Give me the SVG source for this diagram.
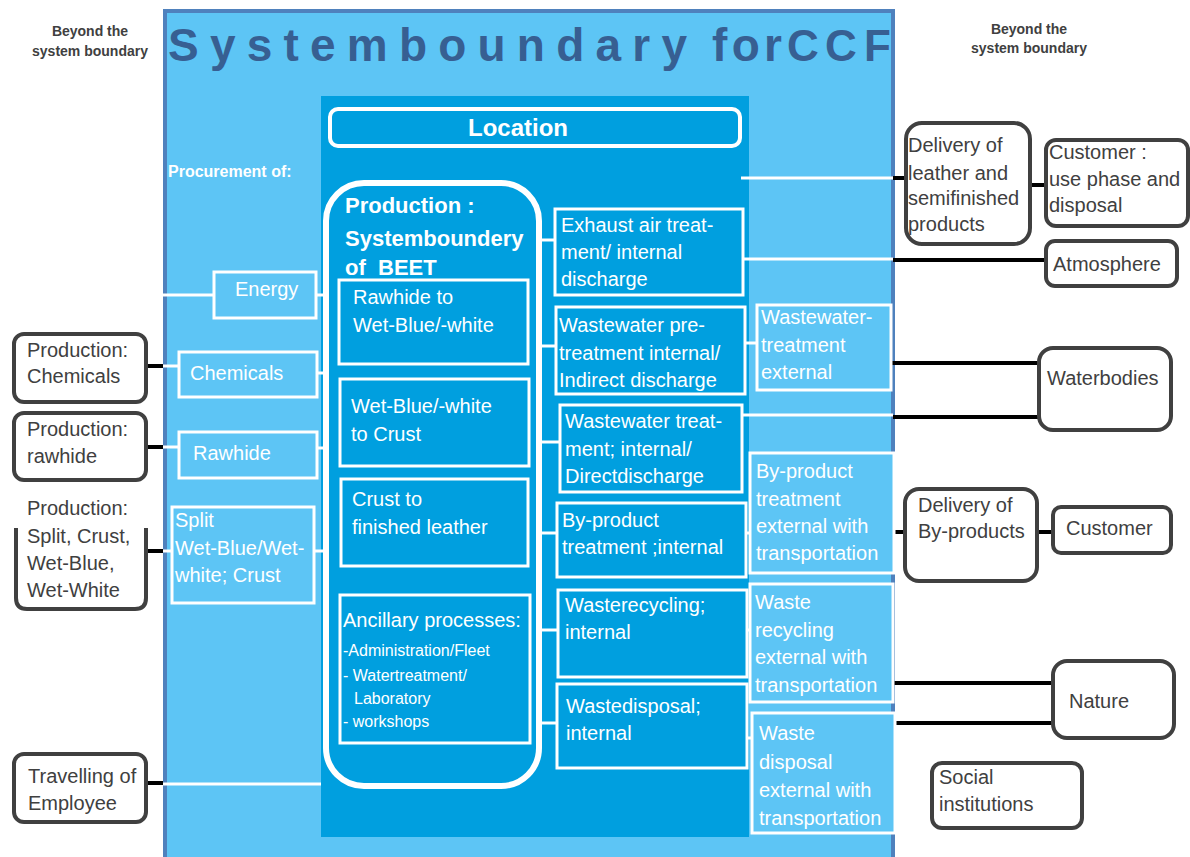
<svg xmlns="http://www.w3.org/2000/svg" width="1190" height="857" viewBox="0 0 1190 857">
<style>
.t{font-family:"Liberation Sans",Arial,sans-serif;font-size:20px;fill:#fff}
.g{fill:#404040}
.b{font-weight:bold}
.ext{fill:#fff;stroke:#404040;stroke-width:4}
.ib{fill:#009FDF;stroke:#fff;stroke-width:3}
.ob{fill:#5DC5F5;stroke:#fff;stroke-width:3}
.wl{stroke:#fff;stroke-width:3;fill:none}
.bl{stroke:#000;stroke-width:4;fill:none}
.title{font-family:"Liberation Sans",Arial,sans-serif;font-weight:bold;font-size:46px;fill:#375F92}
</style>
<rect width="1190" height="857" fill="#fff"/>
<g id="boundary">
<rect x="165" y="11" width="728" height="860" fill="#5DC5F5" stroke="#4F81BD" stroke-width="4"/>
<text class="title" x="168" y="61" textLength="519" lengthAdjust="spacing">Systemboundary</text>
<text class="title" x="712" y="61" textLength="70" lengthAdjust="spacing">for</text>
<text class="title" style="font-size:44px" x="787 825 864" y="61">CCF</text>
<text class="t b" x="168" y="177" style="font-size:16px">Procurement of:</text>
</g>
<g id="beyond-left"><text class="t g b" style="font-size:14px" text-anchor="middle" x="90" y="36">Beyond the</text><text class="t g b" style="font-size:14px" text-anchor="middle" x="90" y="56">system boundary</text></g>
<g id="beyond-right"><text class="t g b" style="font-size:14px" text-anchor="middle" x="1029" y="34">Beyond the</text><text class="t g b" style="font-size:14px" text-anchor="middle" x="1029" y="53">system boundary</text></g>
<g id="location">
<rect x="321" y="96" width="428" height="741" fill="#009FDF"/>
<rect x="330" y="109" width="410" height="37" rx="8" fill="none" stroke="#fff" stroke-width="4"/>
<text class="t b" style="font-size:24px" x="518" y="136" text-anchor="middle">Location</text>
</g>
<g id="connectors">
<line class="wl" x1="163" y1="295" x2="214" y2="295"/>
<line class="wl" x1="316" y1="295" x2="326" y2="295"/>
<line class="wl" x1="163" y1="366" x2="179" y2="366"/>
<line class="wl" x1="317" y1="373" x2="326" y2="373"/>
<line class="wl" x1="163" y1="447" x2="179" y2="447"/>
<line class="wl" x1="317" y1="448" x2="326" y2="448"/>
<line class="wl" x1="163" y1="551" x2="172" y2="551"/>
<line class="wl" x1="314" y1="551" x2="326" y2="551"/>
<line class="wl" x1="163" y1="784" x2="321" y2="784"/>
<line class="wl" x1="539" y1="240" x2="555" y2="240"/>
<line class="wl" x1="539" y1="346" x2="556" y2="346"/>
<line class="wl" x1="539" y1="442" x2="560" y2="442"/>
<line class="wl" x1="539" y1="533" x2="557" y2="533"/>
<line class="wl" x1="539" y1="630" x2="558" y2="630"/>
<line class="wl" x1="539" y1="723" x2="557" y2="723"/>
<line class="wl" x1="741" y1="178" x2="893" y2="178"/>
<line class="wl" x1="743" y1="259" x2="893" y2="259"/>
<line class="wl" x1="745" y1="343" x2="757" y2="343"/>
<line class="wl" x1="742" y1="415" x2="893" y2="415"/>
<line class="wl" x1="746" y1="533" x2="750" y2="533"/>
<line class="wl" x1="747" y1="630" x2="751" y2="630"/>
<line class="wl" x1="741" y1="738" x2="752" y2="738"/>
<line class="bl" x1="145" y1="366" x2="163" y2="366"/>
<line class="bl" x1="144" y1="447" x2="163" y2="447"/>
<line class="bl" x1="145" y1="551" x2="163" y2="551"/>
<line class="bl" x1="143" y1="783" x2="163" y2="783"/>
<line class="bl" x1="893" y1="178" x2="907" y2="178"/>
<line class="bl" x1="1025" y1="185" x2="1045" y2="185"/>
<line class="bl" x1="893" y1="260" x2="1045" y2="260"/>
<line class="bl" x1="891" y1="363" x2="1040" y2="363"/>
<line class="bl" x1="893" y1="417" x2="1040" y2="417"/>
<line class="bl" x1="894" y1="532" x2="906" y2="532"/>
<line class="bl" x1="1036" y1="532" x2="1052" y2="532"/>
<line class="bl" x1="887" y1="683" x2="1052" y2="683"/>
<line class="bl" x1="886" y1="723" x2="1053" y2="723"/>
</g>
<g id="production">
<rect x="326" y="183" width="213" height="603" rx="38" fill="none" stroke="#fff" stroke-width="6"/>
<text class="t b" style="font-size:22px" x="345" y="213">Production :</text>
<text class="t b" style="font-size:22px" x="345" y="246">Systemboundery</text>
<text class="t b" style="font-size:22px" x="345" y="275" xml:space="preserve">of  BEET</text>
</g>
<g id="rawhide-wetblue"><rect class="ib" x="339" y="280" width="189" height="84"/><text class="t" x="353" y="304">Rawhide to</text><text class="t" x="353" y="332">Wet-Blue/-white</text></g>
<g id="wetblue-crust"><rect class="ib" x="340" y="379" width="189" height="87"/><text class="t" x="351" y="413">Wet-Blue/-white</text><text class="t" x="351" y="441">to Crust</text></g>
<g id="crust-finished"><rect class="ib" x="341" y="479" width="187" height="87"/><text class="t" x="352" y="506">Crust to</text><text class="t" x="352" y="534">finished leather</text></g>
<g id="ancillary"><rect class="ib" x="340" y="595" width="190" height="148"/><text class="t" x="343" y="627">Ancillary processes:</text><text class="t" style="font-size:16px" x="343" y="656">-Administration/Fleet</text><text class="t" style="font-size:16px" x="343" y="681">- Watertreatment/</text><text class="t" style="font-size:16px" x="354" y="704">Laboratory</text><text class="t" style="font-size:16px" x="343" y="727">- workshops</text></g>
<g id="exhaust"><rect class="ib" x="555" y="209" width="188" height="86"/><text class="t" x="561" y="232">Exhaust air treat-</text><text class="t" x="561" y="259">ment/ internal</text><text class="t" x="561" y="286">discharge</text></g>
<g id="ww-pre"><rect class="ib" x="556" y="307" width="189" height="87"/><text class="t" x="559" y="332">Wastewater pre-</text><text class="t" x="559" y="360">treatment internal/</text><text class="t" x="559" y="387">Indirect discharge</text></g>
<g id="ww-treat"><rect class="ib" x="560" y="405" width="182" height="87"/><text class="t" x="565" y="428">Wastewater treat-</text><text class="t" x="565" y="456">ment; internal/</text><text class="t" x="565" y="483">Directdischarge</text></g>
<g id="byproduct-int"><rect class="ib" x="557" y="503" width="189" height="74"/><text class="t" x="562" y="527">By-product</text><text class="t" x="562" y="554">treatment ;internal</text></g>
<g id="recycling-int"><rect class="ib" x="558" y="590" width="189" height="87"/><text class="t" x="565" y="612">Wasterecycling;</text><text class="t" x="565" y="639">internal</text></g>
<g id="disposal-int"><rect class="ib" x="557" y="684" width="190" height="84"/><text class="t" x="566" y="713">Wastedisposal;</text><text class="t" x="566" y="740">internal</text></g>
<g id="energy"><rect class="ob" x="214" y="272" width="102" height="46"/><text class="t" x="235" y="296">Energy</text></g>
<g id="chemicals"><rect class="ob" x="179" y="352" width="138" height="45"/><text class="t" x="190" y="380">Chemicals</text></g>
<g id="rawhide"><rect class="ob" x="179" y="432" width="138" height="46"/><text class="t" x="193" y="460">Rawhide</text></g>
<g id="split"><rect class="ob" x="172" y="507" width="142" height="96"/><text class="t" x="175" y="527">Split</text><text class="t" x="175" y="555">Wet-Blue/Wet-</text><text class="t" x="175" y="582">white; Crust</text></g>
<g id="ww-ext"><rect class="ob" x="757" y="305" width="134" height="85"/><text class="t" x="761" y="324">Wastewater-</text><text class="t" x="761" y="352">treatment</text><text class="t" x="761" y="379">external</text></g>
<g id="byproduct-ext"><rect class="ob" x="750" y="453" width="144" height="120"/><text class="t" x="756" y="478">By-product</text><text class="t" x="756" y="506">treatment</text><text class="t" x="756" y="533">external with</text><text class="t" x="756" y="560">transportation</text></g>
<g id="recycling-ext"><rect class="ob" x="750" y="584" width="143" height="118"/><text class="t" x="755" y="609">Waste</text><text class="t" x="755" y="637">recycling</text><text class="t" x="755" y="664">external with</text><text class="t" x="755" y="692">transportation</text></g>
<g id="disposal-ext"><rect class="ob" x="752" y="713" width="143" height="120"/><text class="t" x="759" y="740">Waste</text><text class="t" x="759" y="769">disposal</text><text class="t" x="759" y="797">external with</text><text class="t" x="759" y="825">transportation</text></g>
<g id="prod-chemicals"><rect class="ext" x="14" y="334" width="132" height="68" rx="10"/><text class="t g" x="27" y="357">Production:</text><text class="t g" x="27" y="383">Chemicals</text></g>
<g id="prod-rawhide"><rect class="ext" x="14" y="413" width="132" height="67" rx="10"/><text class="t g" x="27" y="436">Production:</text><text class="t g" x="27" y="463">rawhide</text></g>
<g id="prod-split"><path class="ext" d="M16,528 V598 Q16,609 27,609 H135 Q146,609 146,598 V528"/><text class="t g" x="27" y="515">Production:</text><text class="t g" x="27" y="543">Split, Crust,</text><text class="t g" x="27" y="570">Wet-Blue,</text><text class="t g" x="27" y="597">Wet-White</text></g>
<g id="travelling"><rect class="ext" x="14" y="754" width="132" height="68" rx="10"/><text class="t g" x="28" y="783">Travelling of</text><text class="t g" x="28" y="810">Employee</text></g>
<g id="delivery-leather"><rect class="ext" x="906" y="123" width="124" height="121" rx="16"/><text class="t g" x="908" y="152">Delivery of</text><text class="t g" x="908" y="180">leather and</text><text class="t g" x="908" y="205">semifinished</text><text class="t g" x="908" y="231">products</text></g>
<g id="customer-use"><rect class="ext" x="1046" y="140" width="142" height="86" rx="10"/><text class="t g" x="1049" y="159">Customer :</text><text class="t g" x="1049" y="186">use phase and</text><text class="t g" x="1049" y="212">disposal</text></g>
<g id="atmosphere"><rect class="ext" x="1046" y="241" width="131" height="45" rx="9"/><text class="t g" x="1053" y="271">Atmosphere</text></g>
<g id="waterbodies"><rect class="ext" x="1039" y="348" width="132" height="82" rx="14"/><text class="t g" x="1047" y="385">Waterbodies</text></g>
<g id="delivery-byproducts"><rect class="ext" x="905" y="489" width="132" height="92" rx="14"/><text class="t g" x="918" y="512">Delivery of</text><text class="t g" x="918" y="538">By-products</text></g>
<g id="customer"><rect class="ext" x="1053" y="507" width="118" height="46" rx="8"/><text class="t g" x="1066" y="535">Customer</text></g>
<g id="nature"><rect class="ext" x="1053" y="661" width="121" height="77" rx="14"/><text class="t g" x="1069" y="708">Nature</text></g>
<g id="social"><rect class="ext" x="932" y="763" width="150" height="65" rx="10"/><text class="t g" x="939" y="784">Social</text><text class="t g" x="939" y="811">institutions</text></g>
</svg>
